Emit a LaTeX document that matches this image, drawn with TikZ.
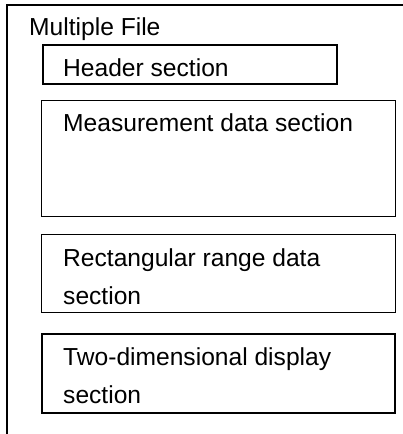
\documentclass[tikz,border=0pt]{standalone}
\usepackage{fontspec}
\setmainfont{Liberation Sans}
\usetikzlibrary{positioning}
\tikzset{
  part/.style={draw=black,line width=1.3pt,inner sep=0pt,anchor=north west},
  partlabel/.style={inner sep=0pt,anchor=base west,align=left,font=\fontsize{24.6}{38}\selectfont}
}
\begin{document}
\begin{tikzpicture}[x=1pt,y=-1pt]
  \useasboundingbox (0,0) rectangle (403,434);
  % open outer frame
  \draw[line width=1.5pt] (7,434)--(7,5)--(403,5);
  \node[partlabel] (title) at (29,35) {Multiple File};
  % sections
  \node[part,line width=1.8pt,minimum width=294pt,minimum height=39pt] (header) at (42,44) {};
  \node[part,minimum width=354pt,minimum height=116pt] (meas) at (41,100) {};
  \node[part,minimum width=354pt,minimum height=78pt] (rect) at (41,234) {};
  \node[part,line width=1.6pt,minimum width=353pt,minimum height=79pt] (twodim) at (41,333) {};
  % labels (base of a two-line label is its last line)
  \node[partlabel] (headerlab) at (63,76) {Header section};
  \node[partlabel] (measlab) at (63,131) {Measurement data section};
  \node[partlabel] (rectlab) at (63,304) {Rectangular range data\\section};
  \node[partlabel] (twodimlab) at (63,403) {Two-dimensional display\\section};
\end{tikzpicture}
\end{document}
